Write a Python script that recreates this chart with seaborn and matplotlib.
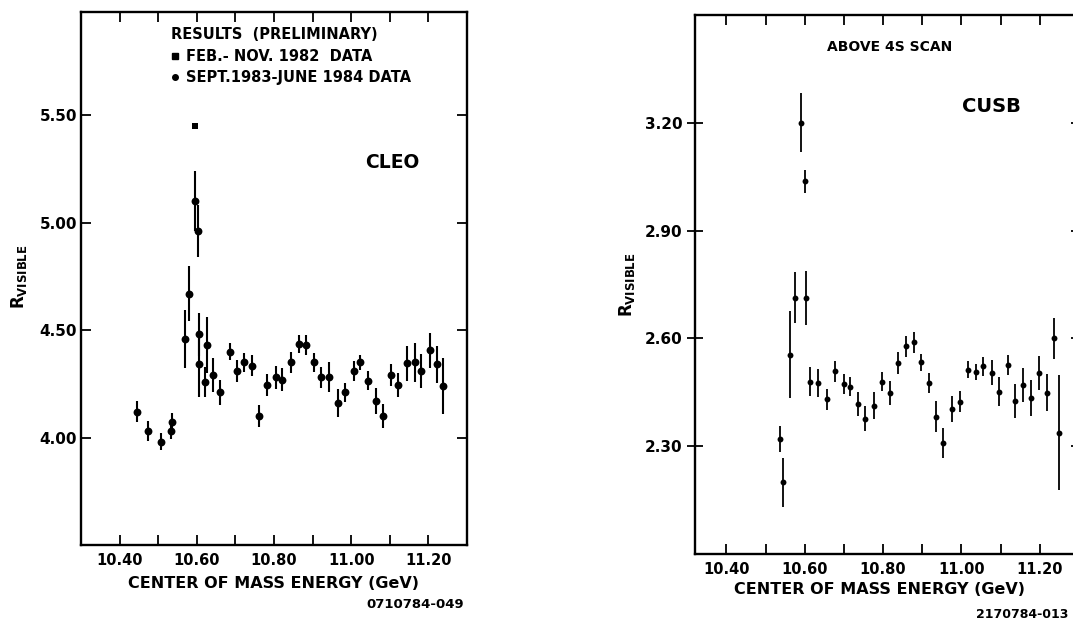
import numpy as np
import pandas as pd
import seaborn as sns
import matplotlib.pyplot as plt
from matplotlib.lines import Line2D

# -----------------------------
# Data
# -----------------------------
# CLEO, Sept. 1983 - June 1984 data (circles)
cleo_e = [10.446, 10.474, 10.506, 10.534, 10.536, 10.569, 10.581, 10.595, 10.604,
          10.606, 10.606, 10.621, 10.626, 10.643, 10.660, 10.685, 10.703, 10.722,
          10.744, 10.761, 10.782, 10.804, 10.822, 10.844, 10.865, 10.884, 10.904,
          10.921, 10.942, 10.965, 10.985, 11.006, 11.024, 11.043, 11.063, 11.083,
          11.104, 11.122, 11.144, 11.164, 11.181, 11.204, 11.222, 11.238]
cleo_r = [4.12, 4.03, 3.98, 4.03, 4.07, 4.46, 4.67, 5.10, 4.96,
          4.48, 4.34, 4.26, 4.43, 4.29, 4.21, 4.40, 4.31, 4.35,
          4.335, 4.10, 4.245, 4.28, 4.27, 4.35, 4.435, 4.43, 4.35,
          4.28, 4.28, 4.16, 4.21, 4.31, 4.35, 4.265, 4.17, 4.10,
          4.29, 4.245, 4.345, 4.35, 4.31, 4.405, 4.34, 4.24]
cleo_err = [0.05, 0.045, 0.04, 0.035, 0.045, 0.135, 0.13, 0.14, 0.12,
            0.10, 0.15, 0.07, 0.13, 0.08, 0.06, 0.04, 0.05, 0.045,
            0.05, 0.05, 0.05, 0.055, 0.055, 0.05, 0.04, 0.045, 0.045,
            0.05, 0.07, 0.065, 0.045, 0.045, 0.035, 0.045, 0.06, 0.055,
            0.05, 0.055, 0.08, 0.09, 0.08, 0.08, 0.085, 0.13]

# CLEO, Feb. - Nov. 1982 data (square)
cleo82_e = [10.596]
cleo82_r = [5.45]

# CUSB, above 4S scan
cusb_e = [10.538, 10.545, 10.563, 10.576, 10.591, 10.602, 10.604, 10.614, 10.635,
          10.658, 10.678, 10.699, 10.715, 10.735, 10.755, 10.776, 10.797, 10.818,
          10.838, 10.859, 10.880, 10.897, 10.916, 10.936, 10.954, 10.976, 10.997,
          11.016, 11.037, 11.056, 11.078, 11.097, 11.118, 11.137, 11.158, 11.178,
          11.198, 11.218, 11.237, 11.248]
cusb_r = [2.32, 2.20, 2.555, 2.713, 3.20, 3.038, 2.712, 2.48, 2.475,
          2.43, 2.508, 2.473, 2.466, 2.417, 2.377, 2.413, 2.48, 2.449,
          2.531, 2.578, 2.589, 2.533, 2.475, 2.382, 2.309, 2.404, 2.424,
          2.513, 2.506, 2.522, 2.505, 2.452, 2.525, 2.426, 2.471, 2.435,
          2.503, 2.449, 2.60, 2.338]
cusb_err = [0.036, 0.068, 0.12, 0.071, 0.082, 0.032, 0.075, 0.041, 0.039,
            0.029, 0.03, 0.028, 0.027, 0.033, 0.034, 0.037, 0.026, 0.033,
            0.03, 0.029, 0.029, 0.023, 0.028, 0.043, 0.043, 0.037, 0.03,
            0.023, 0.022, 0.026, 0.035, 0.04, 0.028, 0.047, 0.047, 0.05,
            0.047, 0.051, 0.058, 0.16]

x_ticks = [10.40, 10.60, 10.80, 11.00, 11.20]
x_minor = [10.50, 10.70, 10.90, 11.10]
cleo_yticks = [4.00, 4.50, 5.00, 5.50]
cusb_yticks = [2.30, 2.60, 2.90, 3.20]

cleo = pd.DataFrame({"E": cleo_e, "R": cleo_r, "err": cleo_err})
cleo82 = pd.DataFrame({"E": cleo82_e, "R": cleo82_r})
cusb = pd.DataFrame({"E": cusb_e, "R": cusb_r, "err": cusb_err})

# -----------------------------
# Style
# -----------------------------
sns.set_theme(style="ticks")
plt.rcParams['font.family'] = ['DejaVu Sans']
plt.rcParams['font.weight'] = 'bold'
plt.rcParams['mathtext.fontset'] = 'dejavusans'
plt.rcParams['mathtext.default'] = 'bf'
for key in ['text.color', 'axes.labelcolor', 'xtick.color', 'ytick.color',
            'axes.edgecolor', 'legend.labelcolor']:
    plt.rcParams[key] = 'black'

W, H = 1073, 624
fig = plt.figure(figsize=(W / 100, H / 100), dpi=100)
fig.patch.set_facecolor("white")


def px(x, y):
    return x / W, 1 - y / H


ax1 = fig.add_axes([81 / W, (H - 545) / H, 386 / W, 533 / H])
ax2 = fig.add_axes([695 / W, (H - 554) / H, 384 / W, 539 / H])

# -----------------------------
# Left panel: CLEO
# -----------------------------
ax1.errorbar(cleo["E"], cleo["R"], yerr=cleo["err"], fmt="none",
             ecolor="black", elinewidth=1.5, capsize=0)
sns.scatterplot(data=cleo, x="E", y="R", ax=ax1, color="black", marker="o",
                s=32, linewidth=0, legend=False)
sns.scatterplot(data=cleo82, x="E", y="R", ax=ax1, color="black", marker="s",
                s=22, linewidth=0, legend=False)
ax1.set_xlim(10.30, 11.30)
ax1.set_ylim(3.50, 5.98)
ax1.set_yticks(cleo_yticks)
ax1.set_yticklabels([f"{v:.2f}" for v in cleo_yticks], fontsize=11)

handles = [Line2D([], [], ls="none", marker="s", color="black", ms=4),
           Line2D([], [], ls="none", marker="o", color="black", ms=4)]
leg = ax1.legend(handles, ["FEB.- NOV. 1982  DATA", "SEPT.1983-JUNE 1984 DATA"],
                 title="RESULTS  (PRELIMINARY)", loc="upper left",
                 bbox_to_anchor=(0.215, 0.985), frameon=False, borderpad=0,
                 handlelength=0.5, handletextpad=0.5, labelspacing=0.45,
                 prop={"size": 10.5, "weight": "bold"}, title_fontsize=10.5,
                 alignment="left")
leg.get_title().set_fontweight("bold")

fig.text(*px(392, 162), "CLEO", fontsize=13.5, ha="center", va="center")
fig.text(*px(19, 277), r"R$_{\mathbf{VISIBLE}}$", fontsize=12, rotation=90,
         ha="center", va="center")
fig.text(*px(273, 583), "CENTER OF MASS ENERGY (GeV)", fontsize=11.5,
         ha="center", va="center")
fig.text(*px(464, 605), "0710784-049", fontsize=9.5, ha="right", va="center")

# -----------------------------
# Right panel: CUSB
# -----------------------------
ax2.errorbar(cusb["E"], cusb["R"], yerr=cusb["err"], fmt="none",
             ecolor="black", elinewidth=1.3, capsize=0)
sns.scatterplot(data=cusb, x="E", y="R", ax=ax2, color="black", marker="o",
                s=18, linewidth=0, legend=False)
ax2.set_xlim(10.32, 11.30)
ax2.set_ylim(2.00, 3.50)
ax2.set_yticks(cusb_yticks)
ax2.set_yticklabels([f"{v:.2f}" for v in cusb_yticks], fontsize=11)

fig.text(*px(890, 47), "ABOVE 4S SCAN", fontsize=10, ha="center", va="center")
fig.text(*px(991, 107), "CUSB", fontsize=14, ha="center", va="center")
fig.text(*px(627, 285), r"R$_{\mathbf{VISIBLE}}$", fontsize=12, rotation=90,
         ha="center", va="center")
fig.text(*px(880, 590), "CENTER OF MASS ENERGY (GeV)", fontsize=11.5,
         ha="center", va="center")
fig.text(*px(1068, 615), "2170784-013", fontsize=9, ha="right", va="center")

# -----------------------------
# Common axis styling
# -----------------------------
for ax, ydir in [(ax1, "in"), (ax2, "inout")]:
    ax.set_xticks(x_ticks)
    ax.set_xticks(x_minor, minor=True)
    ax.set_xticklabels([f"{v:.2f}" for v in x_ticks], fontsize=10.5)
    ax.set_xlabel("")
    ax.set_ylabel("")
    for sp in ax.spines.values():
        sp.set_visible(True)
        sp.set_linewidth(1.7)
        sp.set_color("black")
    ax.tick_params(axis="x", which="both", direction="in", top=True, bottom=True,
                   length=7, width=1.3, pad=6, colors="black")
    ax.tick_params(axis="y", which="both", direction=ydir, left=True, right=True,
                   length=7 if ydir == "in" else 12, width=1.3, pad=3, colors="black")
    ax.set_facecolor("white")
    ax.grid(False)

fig.savefig("out.png", dpi=100, facecolor="white")
